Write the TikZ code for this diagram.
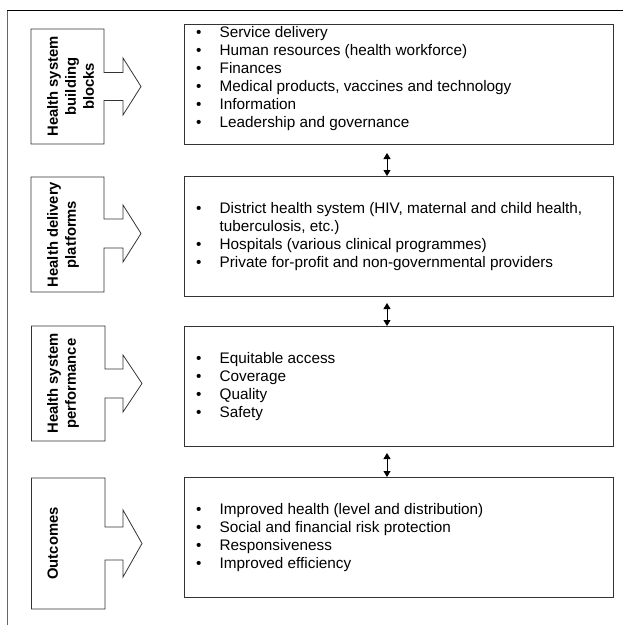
\documentclass[tikz,border=0pt]{standalone}
\usepackage{fontspec}
\setmainfont{Liberation Sans}
\usetikzlibrary{arrows.meta}
\newcommand\itemb{\makebox[23.5pt][l]{\textbullet}}
\begin{document}
\begin{tikzpicture}[x=1pt,y=-1pt,
  outl/.style={draw=black!80, line width=0.8pt},
  rbox/.style={outl, minimum width=429pt, minimum height=120pt, anchor=north west, inner sep=0pt},
  lbl/.style={rotate=90, anchor=north, align=center, inner sep=0pt, font=\fontsize{14.8}{18}\selectfont\bfseries},
  itm/.style={anchor=north west, align=left, inner sep=0pt, font=\fontsize{15.3}{18}\selectfont},
  dbl/.style={{Triangle[length=6pt,width=7pt]}-{Triangle[length=6pt,width=7pt]}, line width=0.8pt}]
\useasboundingbox (0,0) rectangle (626,626);
% outer frame (only top and left visible)
\draw[black!60, line width=1pt] (7,625) -- (7,10);
\draw[black, line width=0.8pt] (7,10) -- (623,10);

% left arrow shapes
\draw[outl] (31,29) -- (104,29) -- (104,72.5) -- (123,72.5) -- (123,58) -- (141,86.5) -- (123,115) -- (123,100.5) -- (104,100.5) -- (104,144) -- (31,144) -- cycle;
\node[lbl] (l1) at (45,86.5) {\strut Health system\\\strut building\\\strut blocks};

\draw[outl] (31,177) -- (104,177) -- (104,219) -- (123,219) -- (123,205) -- (141,233.5) -- (123,262) -- (123,248) -- (104,248) -- (104,292) -- (31,292) -- cycle;
\node[lbl] (l2) at (45,234.5) {\strut Health delivery\\\strut platforms};

\draw[outl] (31.5,326) -- (105,326) -- (105,369) -- (123,369) -- (123,355) -- (142,383.5) -- (123,412) -- (123,398) -- (105,398) -- (105,441) -- (31.5,441) -- cycle;
\node[lbl] (l3) at (45,383.5) {\strut Health system\\\strut performance};

\draw[outl] (31.5,478) -- (105,478) -- (105,527) -- (123,527) -- (123,510) -- (142,543.5) -- (123,577) -- (123,560) -- (105,560) -- (105,609) -- (31.5,609) -- cycle;
\node[lbl] (l4) at (45,543.5) {\strut Outcomes};

% right boxes
\node[rbox] (b1) at (184,24) {};
\node[rbox] (b2) at (184,176) {};
\node[rbox] (b3) at (184,326) {};
\node[rbox] (b4) at (184,477) {};

\node[itm] (t1) at (196,24.4) {\strut\itemb Service delivery\\
\strut\itemb Human resources (health workforce)\\
\strut\itemb Finances\\
\strut\itemb Medical products, vaccines and technology\\
\strut\itemb Information\\
\strut\itemb Leadership and governance};

\node[itm] (t2) at (196,200.4) {\strut\itemb District health system (HIV, maternal and child health,\\
\strut\hspace*{23.5pt}tuberculosis, etc.)\\
\strut\itemb Hospitals (various clinical programmes)\\
\strut\itemb Private for-profit and non-governmental providers};

\node[itm] (t3) at (196,350.4) {\strut\itemb Equitable access\\
\strut\itemb Coverage\\
\strut\itemb Quality\\
\strut\itemb Safety};

\node[itm] (t4) at (196,501.4) {\strut\itemb Improved health (level and distribution)\\
\strut\itemb Social and financial risk protection\\
\strut\itemb Responsiveness\\
\strut\itemb Improved efficiency};

% double arrows
\coordinate (c1) at (387,153);
\coordinate (c2) at (387,303);
\coordinate (c3) at (387,453);
\draw[dbl] (c1) -- (c1 |- b2.north);
\draw[dbl] (c2) -- (c2 |- b3.north);
\draw[dbl] (c3) -- (c3 |- b4.north);
\end{tikzpicture}
\end{document}
